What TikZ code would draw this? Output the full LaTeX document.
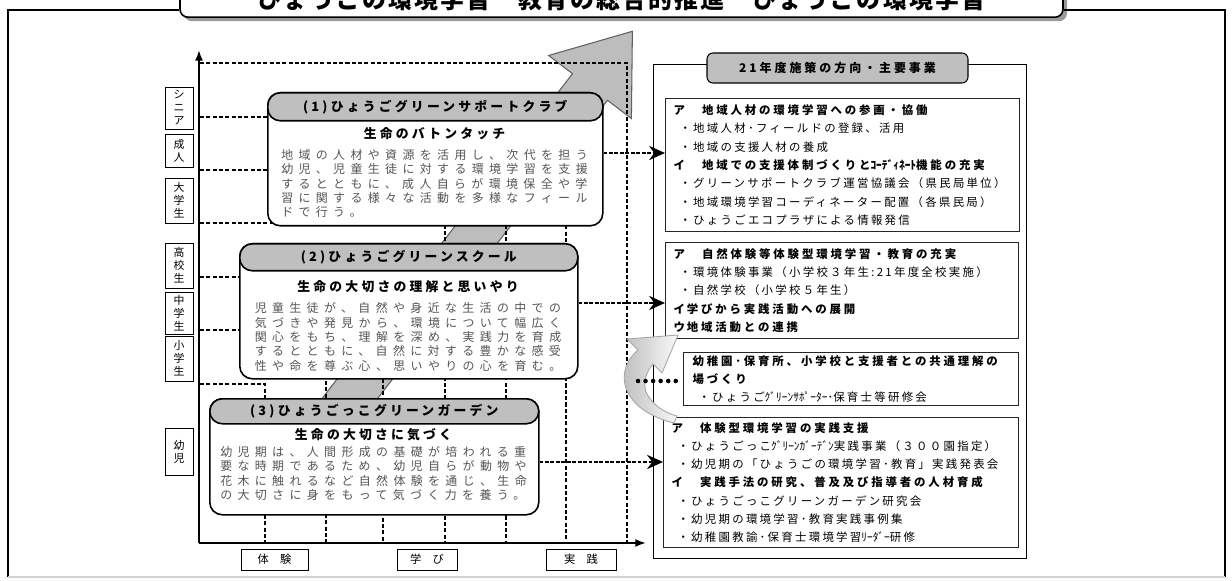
\documentclass[tikz,border=0pt]{standalone}
\usepackage{fontspec}
\setmainfont{Noto Sans CJK JP}
\newfontfamily\jptitle[LetterSpace=9]{Noto Sans CJK JP}
\newfontfamily\jpspaced[LetterSpace=45]{Noto Sans CJK JP}
\newfontfamily\jphead[LetterSpace=25]{Noto Sans CJK JP}
\newfontfamily\jpplan[LetterSpace=20]{Noto Sans CJK JP}
\newfontfamily\jpplain{Noto Sans CJK JP}
\usetikzlibrary{arrows.meta, positioning, shadows}

\definecolor{headgray}{HTML}{BFBFBF}
\definecolor{arrowgray}{HTML}{BDBDBD}
\definecolor{bodygray}{HTML}{555555}
\newcommand{\pxu}{0.02cm}
\newcommand{\hankaku}[1]{{\jpplain #1}}
\newcommand{\planbold}[1]{{\jphead\bfseries #1}}

\begin{document}
\begin{tikzpicture}[
    x=0.02cm, y=-0.02cm,
    frameline/.style={line width=1.1pt},
    titlebox/.style={rectangle, rounded corners=0.16cm, draw, line width=0.9pt, fill=white, drop shadow={shadow xshift=0.08cm, shadow yshift=-0.08cm, fill=gray!80, opacity=1}, font=\jptitle\bfseries\fontsize{13.6pt}{15pt}\selectfont},
    agebox/.style={rectangle, draw, line width=0.5pt, minimum width=28*\pxu, inner sep=0pt, align=center, font=\jpplain\fontsize{6.2pt}{7.4pt}\selectfont},
    phasebox/.style={rectangle, draw, line width=0.5pt, minimum height=21*\pxu, inner sep=0pt, font=\jpplain\fontsize{6.4pt}{7pt}\selectfont},
    stagebox/.style={rectangle, rounded corners=0.25cm, draw, line width=0.9pt, fill=white},
    stagehead/.style={rectangle, rounded corners=0.25cm, draw, line width=0.9pt, fill=headgray, inner sep=0pt, font=\jphead\bfseries\fontsize{7.3pt}{8pt}\selectfont},
    stagesub/.style={inner sep=0pt, font=\jphead\bfseries\fontsize{7.3pt}{8pt}\selectfont},
    stagetext/.style={inner sep=0pt, align=left, text=bodygray, font=\jpspaced\fontsize{6.8pt}{8.2pt}\selectfont},
    gridline/.style={line width=0.75pt, dash pattern=on 2.3pt off 1.3pt},
    axisline/.style={line width=1.1pt, -{Latex[length=6pt,width=4.5pt]}},
    bigarrow/.style={fill=arrowgray, draw=gray!75!black, line width=0.6pt},
    turnarrow/.style={left color=gray!55, right color=gray!5, draw=gray!70, line width=0.5pt},
    planframe/.style={rectangle, draw, line width=0.6pt},
    planhead/.style={rectangle, rounded corners=0.12cm, draw, line width=0.6pt, fill=headgray, font=\jphead\bfseries\fontsize{6.8pt}{8pt}\selectfont},
    actbox/.style={rectangle, draw=black!85, line width=0.6pt, fill=white, align=left, anchor=north west, inner xsep=8*\pxu, inner ysep=0pt, font=\jpplan\fontsize{6.5pt}{10.4pt}\selectfont},
    linkarrow/.style={line width=1.6pt, dash pattern=on 2.2pt off 0.9pt, -{Stealth[length=9pt,width=8pt]}},
    dotlink/.style={line width=2.6pt, dash pattern=on 0pt off 4.3pt, line cap=round}
]
\useasboundingbox (0,0) rectangle (1232,581);

% Title and frame
\node[titlebox, minimum width=883*\pxu, minimum height=36*\pxu, anchor=south] (title) at (621.5,18) {ひょうごの環境学習　教育の総合的推進　ひょうごの環境学習};
\draw[frameline] (title.west |- 0,10) -- (8,10) -- (8,577);
\draw[frameline] (title.east |- 0,10) -- (1225,10) -- (1225,577);
\draw[gray!35, line width=0.8pt] (8,577) -- (1225,577);

% Growth arrow behind the chart
\draw[bigarrow] (269.5,466.7) -- (572.5,73.7) -- (548.6,55.5) -- (632.4,31.3) -- (631.4,118.5) -- (607.5,100.3) -- (304.5,493.3) -- cycle;

% Step grid
\foreach \gy/\gx in {63/627, 117/566, 170/506, 223/445, 277/383, 330/326, 384/265}
  \draw[gridline] (200,\gy) -| (\gx,543);

% Axes
\coordinate (origin) at (199,543);
\draw[axisline] (origin) -- (199,50);
\draw[axisline] (origin) -- (646,543);

% Age labels
\node[agebox, minimum height=42*\pxu] (senior) at (179,108) {シ\\ニ\\ア};
\node[agebox, minimum height=33*\pxu] (adult) at (179,150.5) {成\\人};
\node[agebox, minimum height=45*\pxu] (univ) at (179,200.5) {大\\学\\生};
\node[agebox, minimum height=45*\pxu] (high) at (179,265.5) {高\\校\\生};
\node[agebox, minimum height=42*\pxu] (junior) at (179,313) {中\\学\\生};
\node[agebox, minimum height=45*\pxu] (elem) at (179,358.5) {小\\学\\生};
\node[agebox, minimum height=47*\pxu] (infant) at (179,451.5) {幼\\児};

% Phase labels
\node[phasebox, minimum width=67*\pxu] (explore) at (274.5,559.5) {体　験};
\node[phasebox, minimum width=60*\pxu] (learn) at (427,559.5) {学　び};
\node[phasebox, minimum width=70*\pxu] (practice) at (581,559.5) {実　践};

% Stage boxes
\node[stagebox, minimum width=335*\pxu, minimum height=133*\pxu, anchor=north west] (club) at (267,92) {};
\node[stagehead, minimum width=335*\pxu, minimum height=28*\pxu, anchor=north west] (clubhead) at (267,92) {(1)ひょうごグリーンサポートクラブ};
\node[stagesub] (clubsub) at (434.5,134) {生命のバトンタッチ};
\node[stagetext] (clubtext) at (434.5,183.5) {地域の人材や資源を活用し、次代を担う\\幼児、児童生徒に対する環境学習を支援\\するとともに、成人自らが環境保全や学\\習に関する様々な活動を多様なフィール\\ドで行う。};

\node[stagebox, minimum width=338*\pxu, minimum height=135*\pxu, anchor=north west] (school) at (239,243) {};
\node[stagehead, minimum width=338*\pxu, minimum height=27*\pxu, anchor=north west] (schoolhead) at (239,243) {(2)ひょうごグリーンスクール};
\node[stagesub] (schoolsub) at (408,287) {生命の大切さの理解と思いやり};
\node[stagetext] (schooltext) at (408,337) {児童生徒が、自然や身近な生活の中での\\気づきや発見から、環境について幅広く\\関心をもち、理解を深め、実践力を育成\\するとともに、自然に対する豊かな感受\\性や命を尊ぶ心、思いやりの心を育む。};

\node[stagebox, minimum width=329*\pxu, minimum height=116*\pxu, anchor=north west] (garden) at (209,398) {};
\node[stagehead, minimum width=329*\pxu, minimum height=25*\pxu, anchor=north west] (gardenhead) at (209,398) {(3)ひょうごっこグリーンガーデン};
\node[stagesub] (gardensub) at (373.5,435) {生命の大切さに気づく};
\node[stagetext] (gardentext) at (373.5,473.5) {幼児期は、人間形成の基礎が培われる重\\要な時期であるため、幼児自らが動物や\\花木に触れるなど自然体験を通じ、生命\\の大切さに身をもって気づく力を養う。};

% Plan panel
\node[planframe, minimum width=373*\pxu, minimum height=494*\pxu, anchor=north west] (plan) at (653,64) {};
\node[planhead, minimum width=261*\pxu, minimum height=30*\pxu] (planhead) at (837.5,68) {21年度施策の方向・主要事業};

\node[actbox, minimum width=354*\pxu, minimum height=133*\pxu, text width=338*\pxu] (act1) at (665,98) {%
\planbold{ア　地域人材の環境学習への参画・協働}\\
\hspace*{3.4pt}・地域人材･フィールドの登録、活用\\
\hspace*{3.4pt}・地域の支援人材の養成\\
\planbold{イ　地域での支援体制づくりと\hankaku{ｺｰﾃﾞｨﾈｰﾄ}機能の充実}\\
\hspace*{3.4pt}・グリーンサポートクラブ運営協議会（県民局単位）\\
\hspace*{3.4pt}・地域環境学習コーディネーター配置（各県民局）\\
\hspace*{3.4pt}・ひょうごエコプラザによる情報発信};

\node[actbox, minimum width=353*\pxu, minimum height=96*\pxu, text width=337*\pxu] (act2) at (665,242) {%
\planbold{ア　自然体験等体験型環境学習・教育の充実}\\
\hspace*{3.4pt}・環境体験事業（小学校３年生:21年度全校実施）\\
\hspace*{3.4pt}・自然学校（小学校５年生）\\
\planbold{イ\,学びから実践活動への展開}\\
\planbold{ウ\,地域活動との連携}};

\node[actbox, minimum width=335*\pxu, minimum height=53*\pxu, text width=317*\pxu, inner xsep=9*\pxu] (act3) at (683,352) {%
\planbold{幼稚園･保育所、小学校と支援者との共通理解の}\\
\planbold{場づくり}\\
\hspace*{3.4pt}・ひょうご\hankaku{ｸﾞﾘｰﾝｻﾎﾟｰﾀｰ･}保育士等研修会};

\node[actbox, minimum width=355*\pxu, minimum height=130*\pxu, text width=339*\pxu] (act4) at (663,417) {%
\planbold{ア　体験型環境学習の実践支援}\\
\hspace*{3.4pt}・ひょうごっこ\hankaku{ｸﾞﾘｰﾝｶﾞｰﾃﾞﾝ}実践事業（３００園指定）\\
\hspace*{3.4pt}・幼児期の「ひょうごの環境学習･教育」実践発表会\\
\planbold{イ　実践手法の研究、普及及び指導者の人材育成}\\
\hspace*{3.4pt}・ひょうごっこグリーンガーデン研究会\\
\hspace*{3.4pt}・幼児期の環境学習･教育実践事例集\\
\hspace*{3.4pt}・幼稚園教諭･保育士環境学習\hankaku{ﾘｰﾀﾞｰ}研修};

% Turn arrow
\draw[turnarrow] (638,350) .. controls (620,365) and (617,392) .. (645,411) .. controls (655,417) and (665,421) .. (674,423) -- (677,416) .. controls (665,413) and (652,405) .. (646,392) .. controls (643,382) and (646,372) .. (653,364) -- (662,373) -- (678,335) -- (627,339) -- cycle;

% Connections
\coordinate (dotstart) at (638,381);
\draw[linkarrow] (club.east |- 0,153) -- (act1.west |- 0,153);
\draw[linkarrow] (school.east |- 0,303) -- (act2.west |- 0,303);
\draw[linkarrow] (garden.east |- 0,462) -- (act4.west |- 0,462);
\draw[dotlink] (dotstart) -- (act3.west |- dotstart);

\end{tikzpicture}
\end{document}
